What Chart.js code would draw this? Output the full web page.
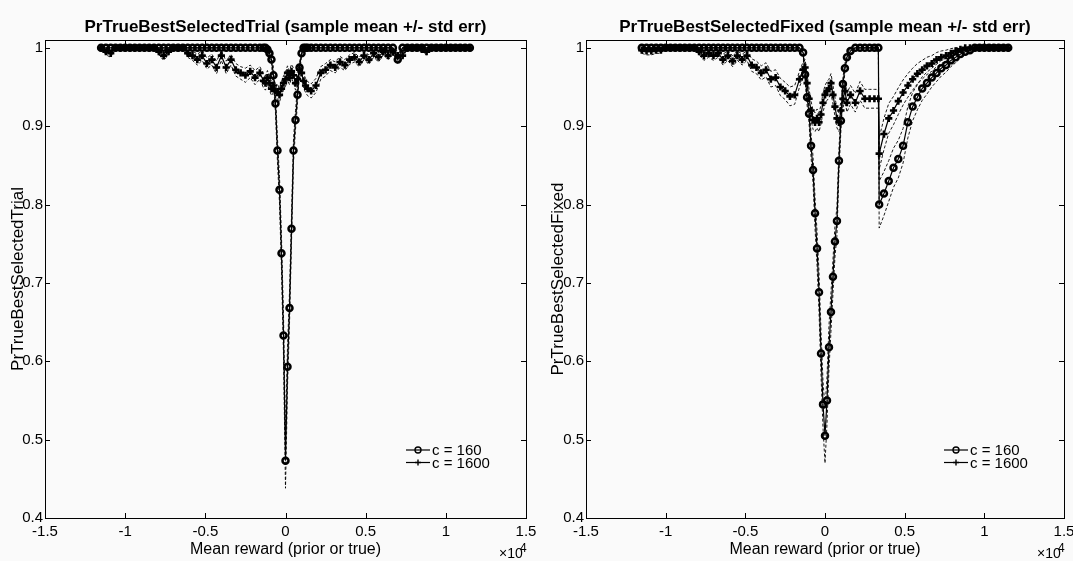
<!DOCTYPE html>
<html>
<head>
<meta charset="utf-8">
<script src="https://cdn.jsdelivr.net/npm/chart.js@4.4.1/dist/chart.umd.min.js"></script>
<style>
  html, body { margin: 0; padding: 0; background: #fafafa; }
  #wrap { position: relative; width: 1073px; height: 561px; overflow: hidden; }
  canvas { position: absolute; top: 0; }
  #trialChart { left: 0; }
  #fixedChart { left: 540px; }
</style>
</head>
<body>
<div id="wrap">
  <canvas id="trialChart" width="540" height="561"></canvas>
  <canvas id="fixedChart" width="533" height="561"></canvas>
</div>
<script>
// x axis values are in units of 10^4 (mean reward)
const X_TICKS = [-1.5, -1, -0.5, 0, 0.5, 1, 1.5];
const X_TICK_LABELS = ['-1.5', '-1', '-0.5', '0', '0.5', '1', '1.5'];
const Y_TICKS = [0.4, 0.5, 0.6, 0.7, 0.8, 0.9, 1];
const Y_TICK_LABELS = ['0.4', '0.5', '0.6', '0.7', '0.8', '0.9', '1'];

// ---------- PrTrueBestSelectedTrial ----------
const xTrial = [
  -1.15, -1.12, -1.09, -1.06, -1.03, -1.00, -0.97, -0.94, -0.91, -0.88,
  -0.85, -0.82, -0.79, -0.76, -0.73, -0.70, -0.67, -0.64, -0.61, -0.58,
  -0.55, -0.52, -0.49, -0.46, -0.43, -0.40, -0.37, -0.34, -0.31, -0.28,
  -0.25, -0.22, -0.19, -0.16,
  -0.1375, -0.125, -0.1125, -0.1, -0.0875, -0.075, -0.0625, -0.05, -0.0375, -0.025, -0.0125,
  0, 0.0125, 0.025, 0.0375, 0.05, 0.0625, 0.075, 0.0875, 0.1, 0.1125, 0.125, 0.1375,
  0.16, 0.19, 0.22, 0.25, 0.28, 0.31, 0.34, 0.37, 0.40, 0.43,
  0.46, 0.49, 0.52, 0.55, 0.58, 0.61, 0.64, 0.67, 0.70, 0.73,
  0.76, 0.79, 0.82, 0.85, 0.88, 0.91, 0.94, 0.97, 1.00, 1.03,
  1.06, 1.09, 1.12, 1.15
];
const trial160 = [
  1, 1, 1, 1, 1, 1, 1, 1, 1, 1,
  1, 1, 1, 1, 1, 1, 1, 1, 1, 1,
  1, 1, 1, 1, 1, 1, 1, 1, 1, 1,
  1, 1, 1, 1,
  1, 1, 0.998, 0.993, 0.985, 0.965, 0.929, 0.869, 0.819, 0.738, 0.633,
  0.473, 0.593, 0.668, 0.769, 0.869, 0.908, 0.94, 0.975, 0.993, 1, 1, 1,
  1, 1, 1, 1, 1, 1, 1, 1, 1, 1,
  1, 1, 1, 1, 1, 1, 1, 1, 0.985, 1,
  1, 1, 1, 1, 1, 1, 1, 1, 1, 1,
  1, 1, 1, 1
];
const trial160Err = [
  0, 0, 0, 0, 0, 0, 0, 0, 0, 0,
  0, 0, 0, 0, 0, 0, 0, 0, 0, 0,
  0, 0, 0, 0, 0, 0, 0, 0, 0, 0,
  0, 0, 0, 0,
  0, 0, 0.002, 0.004, 0.006, 0.01, 0.012, 0.015, 0.017, 0.02, 0.025,
  0.035, 0.025, 0.02, 0.017, 0.015, 0.012, 0.01, 0.006, 0.004, 0, 0, 0,
  0, 0, 0, 0, 0, 0, 0, 0, 0, 0,
  0, 0, 0, 0, 0, 0, 0, 0, 0.006, 0,
  0, 0, 0, 0, 0, 0, 0, 0, 0, 0,
  0, 0, 0, 0
];
const trial1600 = [
  1, 0.995, 0.993, 1, 1, 1, 1, 1, 1, 1,
  1, 1, 0.995, 0.99, 0.995, 1, 1, 1, 0.993, 0.99,
  0.985, 0.99, 0.98, 0.985, 0.975, 0.99, 0.975, 0.985, 0.972, 0.968,
  0.965, 0.97, 0.962, 0.968,
  0.958, 0.955, 0.962, 0.955, 0.948, 0.952, 0.945, 0.944, 0.94, 0.948, 0.955,
  0.96, 0.968, 0.962, 0.97, 0.965, 0.955, 0.96, 0.972, 0.968, 0.958, 0.952, 0.948,
  0.945, 0.952, 0.968, 0.972, 0.978, 0.975, 0.982, 0.978, 0.985, 0.988,
  0.982, 0.99, 0.985, 0.993, 0.988, 0.995, 0.99, 0.995, 0.99, 0.99,
  1, 1, 1, 0.998, 0.995, 1, 1, 1, 1, 1,
  1, 1, 1, 1
];
const trial1600Err = [
  0, 0.004, 0.005, 0, 0, 0, 0, 0, 0, 0,
  0, 0, 0.004, 0.006, 0.004, 0, 0, 0, 0.005, 0.006,
  0.007, 0.006, 0.007, 0.007, 0.008, 0.006, 0.008, 0.007, 0.008, 0.008,
  0.009, 0.008, 0.009, 0.008,
  0.009, 0.009, 0.009, 0.009, 0.009, 0.009, 0.009, 0.009, 0.009, 0.009, 0.009,
  0.009, 0.009, 0.009, 0.009, 0.009, 0.009, 0.009, 0.009, 0.009, 0.009, 0.009, 0.009,
  0.009, 0.009, 0.008, 0.008, 0.007, 0.007, 0.007, 0.007, 0.006, 0.006,
  0.006, 0.005, 0.006, 0.005, 0.006, 0.004, 0.005, 0.004, 0.006, 0.005,
  0, 0, 0, 0.002, 0.004, 0, 0, 0, 0, 0,
  0, 0, 0, 0
];

// ---------- PrTrueBestSelectedFixed ----------
const xFixed = [
  -1.15, -1.12, -1.09, -1.06, -1.03, -1.00, -0.97, -0.94, -0.91, -0.88,
  -0.85, -0.82, -0.79, -0.76, -0.73, -0.70, -0.67, -0.64, -0.61, -0.58,
  -0.55, -0.52, -0.49, -0.46, -0.43, -0.40, -0.37, -0.34, -0.31, -0.28,
  -0.25, -0.22, -0.19, -0.16,
  -0.1375, -0.125, -0.1125, -0.1, -0.0875, -0.075, -0.0625, -0.05, -0.0375, -0.025, -0.0125,
  0, 0.0125, 0.025, 0.0375, 0.05, 0.0625, 0.075, 0.0875, 0.1, 0.1125, 0.125, 0.1375,
  0.16, 0.19, 0.22, 0.25, 0.28, 0.31, 0.335, 0.34, 0.37, 0.40,
  0.43, 0.46, 0.49, 0.52, 0.55, 0.58, 0.61, 0.64, 0.67, 0.70,
  0.73, 0.76, 0.79, 0.82, 0.85, 0.88, 0.91, 0.94, 0.97, 1.00,
  1.03, 1.06, 1.09, 1.12, 1.15
];
const fixed160 = [
  1, 1, 1, 1, 1, 1, 1, 1, 1, 1,
  1, 1, 1, 1, 1, 1, 1, 1, 1, 1,
  1, 1, 1, 1, 1, 1, 1, 1, 1, 1,
  1, 1, 1, 1,
  0.994, 0.966, 0.937, 0.916, 0.875, 0.844, 0.789, 0.744, 0.688, 0.61, 0.545,
  0.505, 0.55, 0.618, 0.663, 0.708, 0.753, 0.779, 0.856, 0.907, 0.954, 0.974, 0.988,
  0.996, 1, 1, 1, 1, 1, 1, 0.8, 0.814, 0.83,
  0.847, 0.858, 0.875, 0.905, 0.925, 0.937, 0.948, 0.955, 0.962, 0.968,
  0.974, 0.978, 0.984, 0.988, 0.992, 0.995, 0.997, 1, 1, 1,
  1, 1, 1, 1, 1
];
const fixed160Err = [
  0, 0, 0, 0, 0, 0, 0, 0, 0, 0,
  0, 0, 0, 0, 0, 0, 0, 0, 0, 0,
  0, 0, 0, 0, 0, 0, 0, 0, 0, 0,
  0, 0, 0, 0,
  0.003, 0.008, 0.01, 0.012, 0.015, 0.017, 0.02, 0.022, 0.025, 0.028, 0.03,
  0.035, 0.03, 0.028, 0.025, 0.022, 0.02, 0.018, 0.015, 0.012, 0.008, 0.006, 0.004,
  0.003, 0, 0, 0, 0, 0, 0, 0.03, 0.028, 0.026,
  0.025, 0.024, 0.022, 0.02, 0.018, 0.016, 0.015, 0.014, 0.012, 0.011,
  0.01, 0.009, 0.008, 0.007, 0.005, 0.004, 0.003, 0, 0, 0,
  0, 0, 0, 0, 0
];
const fixed1600 = [
  0.997, 0.996, 0.996, 0.997, 0.997, 1, 1, 1, 1, 1,
  1, 1, 0.995, 0.99, 0.993, 0.99, 0.993, 0.985, 0.99, 0.983,
  0.99, 0.985, 0.99, 0.978, 0.975, 0.968, 0.972, 0.96, 0.962, 0.95,
  0.945, 0.938, 0.94, 0.96,
  0.972, 0.975, 0.955, 0.935, 0.92, 0.908, 0.905, 0.91, 0.905, 0.915, 0.93,
  0.94, 0.945, 0.948, 0.955, 0.94, 0.925, 0.91, 0.905, 0.92, 0.935, 0.945, 0.93,
  0.94, 0.93, 0.945, 0.935, 0.935, 0.935, 0.935, 0.865, 0.89, 0.91,
  0.92, 0.932, 0.943, 0.952, 0.96, 0.967, 0.972, 0.977, 0.98, 0.985,
  0.988, 0.99, 0.993, 0.996, 0.998, 1, 1, 1, 1, 1,
  1, 1, 1, 1, 1
];
const fixed1600Err = [
  0.004, 0.005, 0.005, 0.004, 0.004, 0, 0, 0, 0, 0,
  0, 0, 0.004, 0.006, 0.005, 0.006, 0.005, 0.007, 0.006, 0.007,
  0.006, 0.007, 0.006, 0.008, 0.008, 0.009, 0.009, 0.01, 0.01, 0.011,
  0.011, 0.012, 0.012, 0.01,
  0.01, 0.01, 0.011, 0.012, 0.012, 0.012, 0.012, 0.012, 0.012, 0.012, 0.012,
  0.012, 0.012, 0.012, 0.012, 0.012, 0.012, 0.012, 0.012, 0.012, 0.012, 0.012, 0.012,
  0.012, 0.012, 0.012, 0.012, 0.012, 0.012, 0.012, 0.02, 0.02, 0.019,
  0.018, 0.017, 0.016, 0.015, 0.014, 0.013, 0.012, 0.011, 0.01, 0.009,
  0.008, 0.007, 0.006, 0.004, 0.002, 0, 0, 0, 0, 0,
  0, 0, 0, 0, 0
];

const FONT = '"Liberation Sans", Arial, Helvetica, sans-serif';
Chart.defaults.font.family = FONT;
Chart.defaults.color = '#000';

const STYLE_160 = { point: 'circle', r: 3, bw: 2.5, fill: 'rgba(255,255,255,0)' };
const STYLE_1600 = { point: 'cross', r: 3.6, bw: 2.6, fill: '#000' };

function seriesSets(xs, mean, err, label, st) {
  const pts = arr => xs.map((x, i) => ({ x: x, y: arr[i] }));
  const up = mean.map((v, i) => v + err[i]);
  const lo = mean.map((v, i) => v - err[i]);
  const dashed = {
    borderColor: '#000', borderWidth: 0.9, borderDash: [3, 2],
    pointRadius: 0, fill: false, tension: 0, order: 2
  };
  return [
    {
      label: label, data: pts(mean), borderColor: '#000', borderWidth: 1.2,
      pointStyle: st.point, pointRadius: st.r, pointBorderWidth: st.bw,
      pointBorderColor: '#000', pointBackgroundColor: st.fill,
      fill: false, tension: 0, order: 1, legendStyle: st
    },
    Object.assign({ data: pts(up) }, dashed),
    Object.assign({ data: pts(lo) }, dashed)
  ];
}

function drawMarker(ctx, st, x, y) {
  ctx.lineWidth = 1.4;
  ctx.beginPath();
  if (st.point === 'circle') {
    ctx.arc(x, y, 3, 0, Math.PI * 2);
  } else {
    ctx.moveTo(x - 3, y); ctx.lineTo(x + 3, y);
    ctx.moveTo(x, y - 3); ctx.lineTo(x, y + 3);
  }
  ctx.stroke();
}

// matlab style box, inward ticks, title, labels and legend
const matlabFrame = {
  id: 'matlabFrame',
  afterDraw(chart, args, opts) {
    const { ctx, chartArea: a, scales: { x, y } } = chart;
    ctx.save();
    ctx.strokeStyle = '#000';
    ctx.fillStyle = '#000';
    ctx.lineWidth = 1;
    ctx.strokeRect(a.left + 0.5, a.top + 0.5, a.width, a.height);
    ctx.beginPath();
    X_TICKS.forEach(v => {
      const px = Math.round(x.getPixelForValue(v)) + 0.5;
      ctx.moveTo(px, a.bottom); ctx.lineTo(px, a.bottom - 5);
      ctx.moveTo(px, a.top); ctx.lineTo(px, a.top + 5);
    });
    Y_TICKS.forEach(v => {
      const py = Math.round(y.getPixelForValue(v)) + 0.5;
      ctx.moveTo(a.left, py); ctx.lineTo(a.left + 5, py);
      ctx.moveTo(a.right, py); ctx.lineTo(a.right - 5, py);
    });
    ctx.stroke();

    const cx = (a.left + a.right) / 2;
    ctx.textAlign = 'center';
    ctx.textBaseline = 'alphabetic';
    ctx.font = 'bold 17px ' + FONT;
    ctx.fillText(opts.title, cx, a.top - 8);

    ctx.font = '16px ' + FONT;
    ctx.fillText('Mean reward (prior or true)', cx, 554);

    ctx.save();
    ctx.translate(18, (a.top + a.bottom) / 2);
    ctx.rotate(-Math.PI / 2);
    ctx.textBaseline = 'middle';
    ctx.font = '17px ' + FONT;
    ctx.fillText(opts.yTitle, 0, 0);
    ctx.restore();

    // x10^4 exponent label
    ctx.textAlign = 'left';
    ctx.font = '14px ' + FONT;
    ctx.fillText('\u00d710', a.right - 27, 558);
    ctx.font = '12px ' + FONT;
    ctx.fillText('4', a.right - 6, 552);

    // legend
    let ly = a.bottom - 68;
    ctx.font = '15px ' + FONT;
    ctx.textBaseline = 'middle';
    chart.data.datasets.forEach(ds => {
      if (!ds.label) return;
      const lx = a.right - 120;
      ctx.lineWidth = 1.2;
      ctx.beginPath();
      ctx.moveTo(lx, ly); ctx.lineTo(lx + 24, ly);
      ctx.stroke();
      drawMarker(ctx, ds.legendStyle, lx + 12, ly);
      ctx.fillText(ds.label, lx + 26, ly + 1);
      ly += 12.5;
    });
    ctx.restore();
  }
};

function makeChart(id, title, yTitle, xs, m160, e160, m1600, e1600, yAxisWidth, padRight) {
  const datasets = []
    .concat(seriesSets(xs, m160, e160, 'c = 160', STYLE_160))
    .concat(seriesSets(xs, m1600, e1600, 'c = 1600', STYLE_1600));
  return new Chart(document.getElementById(id), {
    type: 'line',
    data: { datasets: datasets },
    options: {
      responsive: false,
      animation: false,
      events: [],
      layout: { padding: { top: 40, right: padRight, left: 0, bottom: 0 } },
      plugins: {
        legend: { display: false },
        tooltip: { enabled: false },
        matlabFrame: { title: title, yTitle: yTitle }
      },
      scales: {
        x: {
          type: 'linear', min: -1.5, max: 1.5,
          grid: { display: false, drawTicks: false },
          border: { display: false },
          afterBuildTicks: s => { s.ticks = X_TICKS.map(v => ({ value: v })); },
          afterFit: s => { s.height = 43; s.paddingLeft = 0; s.paddingRight = 0; },
          ticks: {
            autoSkip: false, maxRotation: 0, padding: 5, color: '#000',
            font: { size: 15 },
            callback: (v, i) => X_TICK_LABELS[i]
          }
        },
        y: {
          type: 'linear', min: 0.4, max: 1.01,
          grid: { display: false, drawTicks: false },
          border: { display: false },
          afterBuildTicks: s => { s.ticks = Y_TICKS.map(v => ({ value: v })); },
          afterFit: s => { s.width = yAxisWidth; s.paddingTop = 0; s.paddingBottom = 0; },
          ticks: {
            autoSkip: false, padding: 2, color: '#000',
            font: { size: 15 },
            callback: (v, i) => Y_TICK_LABELS[i]
          }
        }
      }
    },
    plugins: [matlabFrame]
  });
}

makeChart('trialChart', 'PrTrueBestSelectedTrial (sample mean +/- std err)', 'PrTrueBestSelectedTrial',
  xTrial, trial160, trial160Err, trial1600, trial1600Err, 45, 14);
makeChart('fixedChart', 'PrTrueBestSelectedFixed (sample mean +/- std err)', 'PrTrueBestSelectedFixed',
  xFixed, fixed160, fixed160Err, fixed1600, fixed1600Err, 46, 9);
</script>
</body>
</html>
